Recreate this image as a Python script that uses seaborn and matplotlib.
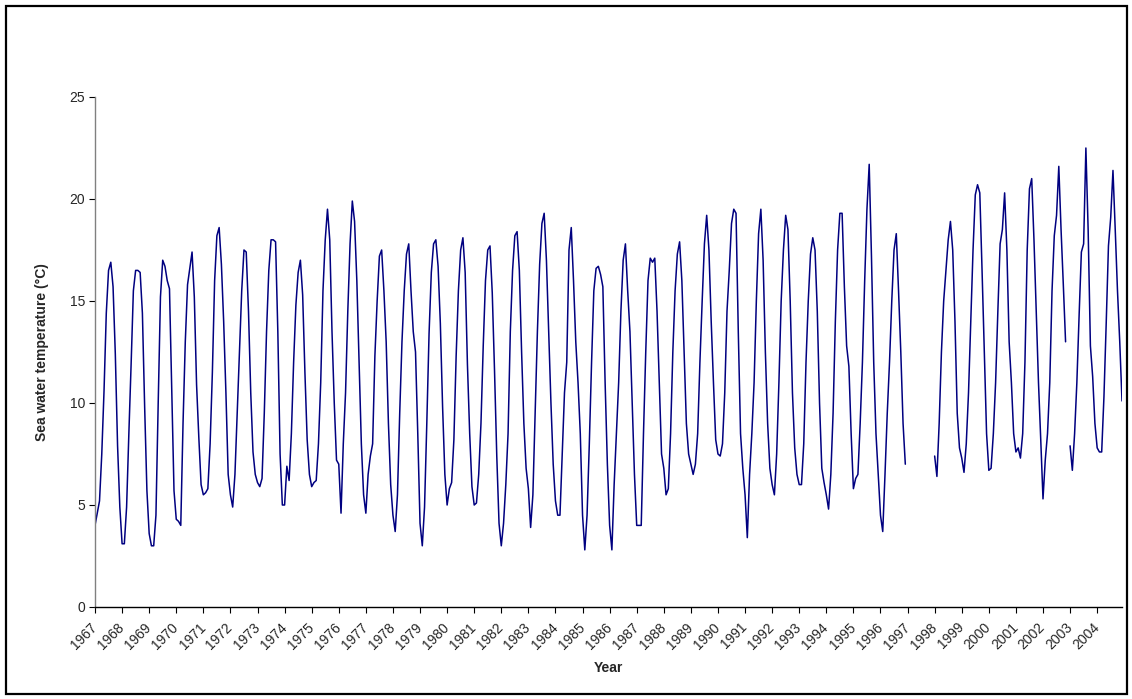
import matplotlib
matplotlib.use("Agg")
import matplotlib.pyplot as plt
import matplotlib.patches as patches
import seaborn as sns
import pandas as pd
import numpy as np

# Year labels on the x axis (one tick every 12 monthly samples)
years = list(range(1967, 2005))

# Monthly sea water temperature (°C), Jan..Dec per row, None = no data
temp_1967_1976 = [
    4.0, 4.6, 5.2, 7.5, 10.6, 14.4, 16.5, 16.9, 15.7, 12.4, 7.9, 4.9,
    3.1, 3.1, 4.9, 8.5, 11.9, 15.5, 16.5, 16.5, 16.4, 14.4, 9.8, 5.7,
    3.6, 3.0, 3.0, 4.5, 10.0, 15.2, 17.0, 16.7, 16.0, 15.6, 10.6, 5.7,
    4.3, 4.2, 4.0, 9.0, 13.0, 15.8, 16.6, 17.4, 15.2, 10.9, 8.3, 6.0,
    5.5, 5.6, 5.8, 8.0, 11.5, 16.0, 18.2, 18.6, 16.8, 14.0, 10.5, 6.5,
    5.5, 4.9, 6.5, 9.5, 12.5, 15.5, 17.5, 17.4, 14.5, 10.5, 7.6, 6.5,
    6.1, 5.9, 6.3, 9.5, 13.5, 16.5, 18.0, 18.0, 17.9, 13.5, 7.5, 5.0,
    5.0, 6.9, 6.2, 8.5, 12.0, 14.8, 16.4, 17.0, 15.3, 11.5, 8.2, 6.5,
    5.9, 6.1, 6.2, 8.0, 11.0, 15.5, 18.0, 19.5, 18.0, 13.5, 10.0, 7.2,
    7.0, 4.6, 8.0, 10.5, 14.5, 17.8, 19.9, 18.9, 16.0, 12.0, 8.0, 5.5,
]
temp_1977_1986 = [
    4.6, 6.5, 7.4, 8.0, 12.3, 15.0, 17.2, 17.5, 15.5, 13.0, 9.0, 6.0,
    4.5, 3.7, 5.5, 9.5, 13.0, 15.5, 17.3, 17.8, 15.5, 13.5, 12.5, 8.5,
    4.1, 3.0, 4.9, 9.0, 13.4, 16.4, 17.8, 18.0, 16.7, 13.9, 9.8, 6.5,
    5.0, 5.8, 6.1, 8.2, 12.3, 15.5, 17.5, 18.1, 16.4, 11.9, 8.5, 5.9,
    5.0, 5.1, 6.5, 9.0, 12.8, 16.0, 17.5, 17.7, 15.4, 11.6, 7.4, 4.1,
    3.0, 4.1, 6.0, 8.5, 13.5, 16.5, 18.2, 18.4, 16.5, 12.5, 9.0, 6.8,
    5.8, 3.9, 5.5, 9.5, 13.5, 16.8, 18.8, 19.3, 17.0, 13.5, 10.0, 7.0,
    5.2, 4.5, 4.5, 7.5, 10.5, 12.0, 17.5, 18.6, 16.0, 13.0, 11.0, 8.5,
    4.5, 2.8, 4.5, 8.0, 12.0, 15.5, 16.6, 16.7, 16.3, 15.7, 11.0, 7.0,
    4.0, 2.8, 6.0, 8.5, 11.0, 14.5, 17.0, 17.8, 15.5, 13.5, 10.0, 6.5,
]
temp_1987_1996 = [
    4.0, 4.0, 4.0, 8.5, 12.5, 16.0, 17.1, 16.9, 17.1, 14.5, 11.0, 7.5,
    6.8, 5.5, 5.8, 8.5, 12.5, 15.5, 17.3, 17.9, 16.0, 12.5, 9.0, 7.5,
    7.0, 6.5, 7.0, 8.5, 12.0, 15.0, 17.8, 19.2, 17.5, 14.0, 11.0, 8.2,
    7.5, 7.4, 8.0, 10.5, 14.5, 16.5, 18.8, 19.5, 19.3, 13.5, 8.5, 6.8,
    5.5, 3.4, 6.5, 8.5, 11.0, 15.0, 18.3, 19.5, 17.0, 12.5, 9.0, 6.8,
    6.0, 5.5, 7.5, 11.0, 15.0, 17.5, 19.2, 18.5, 15.0, 10.5, 7.8, 6.5,
    6.0, 6.0, 8.0, 12.0, 15.0, 17.3, 18.1, 17.5, 14.5, 10.0, 6.8, 6.1,
    5.5, 4.8, 6.5, 9.5, 14.0, 17.5, 19.3, 19.3, 15.7, 12.8, 11.8, 8.5,
    5.8, 6.3, 6.5, 9.0, 12.0, 16.0, 19.5, 21.7, 17.2, 12.0, 8.5, 6.5,
    4.5, 3.7, 6.5, 9.5, 12.0, 15.0, 17.5, 18.3, 15.5, 12.5, 9.0, 7.0,
]
temp_1997_2004 = [
    None, None, None, None, None, None, None, None, None, None, None, None,
    7.4, 6.4, 9.0, 12.5, 15.0, 16.5, 18.0, 18.9, 17.5, 14.0, 9.5, 7.8,
    7.3, 6.6, 8.0, 10.5, 14.0, 17.5, 20.2, 20.7, 20.3, 16.5, 12.5, 8.5,
    6.7, 6.8, 8.5, 11.0, 14.5, 17.8, 18.5, 20.3, 17.5, 13.0, 11.0, 8.5,
    7.6, 7.8, 7.3, 8.5, 12.0, 17.5, 20.5, 21.0, 18.0, 14.5, 11.0, 8.2,
    5.3, 7.2, 8.5, 11.0, 15.5, 18.2, 19.2, 21.6, 18.5, 15.8, 13.0, None,
    7.9, 6.7, 8.5, 11.0, 14.3, 17.4, 17.8, 22.5, 18.5, 12.8, 11.3, 9.0,
    7.8, 7.6, 7.6, 10.3, 13.9, 17.7, 19.1, 21.4, 18.5, 15.5, 13.0, 10.1,
]

temps = temp_1967_1976 + temp_1977_1986 + temp_1987_1996 + temp_1997_2004
df = pd.DataFrame({"month": np.arange(len(temps)), "temp": pd.Series(temps, dtype=float)})
# split the series where data is missing so the line shows gaps
df["segment"] = df["temp"].isna().cumsum()
df = df.dropna()

W, H = 1132, 699
sns.set_theme(style="white")
plt.rcParams["font.family"] = ["Liberation Sans", "DejaVu Sans"]

fig = plt.figure(figsize=(W / 100, H / 100), dpi=100)
ax = fig.add_axes([95 / W, 1 - 607 / H, 1027 / W, 510 / H])

sns.lineplot(data=df, x="month", y="temp", units="segment", estimator=None,
             color="#000080", linewidth=1.1, ax=ax)

ax.set_xlim(0, len(temps) - 1)
ax.set_ylim(0, 25)
ax.set_yticks(range(0, 26, 5))
ax.set_xticks([12 * i for i in range(len(years))])
ax.set_xticklabels([str(y) for y in years], rotation=45, ha="right",
                   va="center", rotation_mode="anchor", fontsize=10)
ax.tick_params(axis="y", labelsize=10, length=4, width=0.8, direction="out",
               color="#000000", pad=3, left=True)
ax.tick_params(axis="x", length=4, width=0.8, direction="out",
               color="#000000", pad=9, bottom=True)

for side in ["top", "right"]:
    ax.spines[side].set_visible(False)
ax.spines["left"].set_color("#808080")
ax.spines["left"].set_linewidth(1.0)
ax.spines["bottom"].set_color("#000000")
ax.spines["bottom"].set_linewidth(1.0)

ax.set_xlabel("Year", fontsize=10, fontweight="bold")
ax.set_ylabel("Sea water temperature (\u00b0C)", fontsize=10, fontweight="bold")
ax.xaxis.set_label_coords(0.5, -0.105)
ax.yaxis.set_label_coords(-0.045, 0.5)

# black frame around the whole chart
fig.patches.append(patches.Rectangle((5.5 / W, 5.5 / H), 1121 / W, 688 / H,
                                     transform=fig.transFigure, fill=False,
                                     edgecolor="black", linewidth=1.6))

fig.savefig("out.png", dpi=100, facecolor="white")
